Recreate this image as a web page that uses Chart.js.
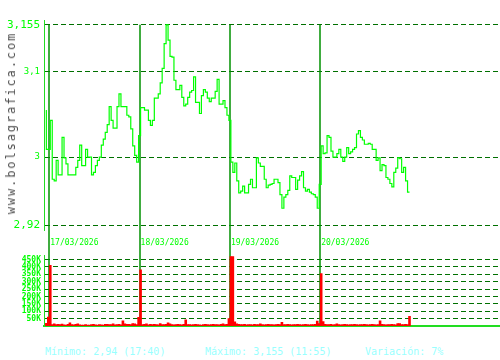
<!DOCTYPE html>
<html>
<head>
<meta charset="utf-8">
<script src="https://cdn.jsdelivr.net/npm/chart.js@4/dist/chart.umd.min.js"></script>
<style>
  html, body { margin: 0; padding: 0; background: #fff; }
  #wrap { position: relative; width: 500px; height: 360px; overflow: hidden; }
  canvas { position: absolute; left: 0; }
  .mark { position: absolute; left: 11px; top: 123px; transform: translate(-50%, -50%) rotate(-90deg);
    font: 12px 'DejaVu Sans Mono', monospace; letter-spacing: 1.9px; color: #505050; white-space: nowrap; }
  .foot { position: absolute; top: 346px; font: 10px 'DejaVu Sans Mono', monospace; color: #99ffff; white-space: nowrap; }
</style>
</head>
<body>
<div id="wrap">
  <canvas id="priceChart" width="500" height="248" style="top:0"></canvas>
  <canvas id="volChart" width="500" height="88" style="top:248px"></canvas>
  <div class="mark">www.bolsagrafica.com</div>
  <div class="foot" style="left:45px">Mínimo: 2,94 (17:40)</div>
  <div class="foot" style="left:205px">Máximo: 3,155 (11:55)</div>
  <div class="foot" style="left:365px">Variación: 7%</div>
</div>
<script>
// sessions shown on the chart
const dates = ['17/03/2026', '18/03/2026', '19/03/2026', '20/03/2026']

// price per ~10 min slot; last two ticks of the previous session first
const preOpen = [3.055, 3.009]
const price17 = [3.009, 3.043, 2.974, 2.972, 2.996, 2.979, 2.979, 3.023, 2.999, 2.992,
  2.979, 2.979, 2.979, 2.979, 2.988, 2.996, 3.014, 2.99, 2.99, 3.009,
  3.0, 3.0, 2.979, 2.982, 2.99, 2.996, 3.0, 3.014, 3.021, 3.029,
  3.038, 3.059, 3.043, 3.034, 3.034, 3.059, 3.074, 3.059, 3.059, 3.059,
  3.049, 3.047, 3.033, 3.013, 3.002, 2.994]
const price18 = [3.025, 3.058, 3.058, 3.055, 3.055, 3.043, 3.037, 3.043, 3.069, 3.069,
  3.074, 3.087, 3.104, 3.133, 3.155, 3.137, 3.118, 3.117, 3.09, 3.079,
  3.079, 3.084, 3.07, 3.06, 3.062, 3.07, 3.076, 3.078, 3.094, 3.064,
  3.064, 3.051, 3.072, 3.079, 3.076, 3.069, 3.065, 3.069, 3.069, 3.077,
  3.091, 3.062, 3.062, 3.066, 3.058, 3.049]
const price19 = [3.043, 2.994, 2.982, 2.993, 2.972, 2.958, 2.96, 2.966, 2.958, 2.958,
  2.968, 2.974, 2.964, 2.964, 2.999, 2.993, 2.989, 2.989, 2.974, 2.964,
  2.967, 2.968, 2.969, 2.974, 2.974, 2.97, 2.956, 2.94, 2.953, 2.956,
  2.961, 2.978, 2.976, 2.976, 2.962, 2.973, 2.978, 2.983, 2.964, 2.96,
  2.962, 2.959, 2.957, 2.956, 2.953, 2.94]
const price20 = [2.968, 3.013, 3.004, 3.005, 3.025, 3.023, 3.007, 3.0, 3.0, 3.004,
  3.009, 3.0, 2.995, 3.0, 3.011, 3.004, 3.006, 3.009, 3.011, 3.027,
  3.031, 3.023, 3.02, 3.015, 3.015, 3.016, 3.015, 3.009, 3.009, 2.996,
  2.999, 2.984, 2.991, 2.99, 2.976, 2.974, 2.969, 2.965, 2.982, 2.987,
  2.999, 2.998, 2.982, 2.988, 2.972, 2.959]

// volume per slot, thousands of shares
const volPre = [18, 60]
const vol17 = [410, 10, 14, 9, 12, 10, 13, 8, 7, 12, 22, 10, 8, 12, 14, 8, 7, 7, 9, 7,
  6, 9, 12, 8, 7, 9, 8, 7, 12, 12, 9, 10, 14, 8, 10, 12, 8, 35, 14, 12,
  12, 9, 16, 14, 9, 58]
const vol18 = [380, 9, 12, 14, 8, 12, 10, 12, 9, 8, 16, 10, 9, 12, 22, 14, 10, 8, 9, 12,
  10, 8, 12, 42, 10, 9, 8, 10, 12, 9, 8, 7, 10, 12, 9, 8, 10, 12, 9, 10,
  8, 12, 14, 10, 12, 50]
const vol19 = [470, 470, 28, 14, 12, 10, 9, 12, 8, 10, 9, 8, 12, 10, 9, 14, 10, 8, 9, 12,
  10, 9, 8, 10, 12, 9, 25, 10, 9, 12, 10, 8, 9, 10, 12, 9, 8, 10, 12, 9,
  8, 10, 9, 12, 33, 16]
const vol20 = [355, 30, 12, 10, 9, 12, 8, 10, 14, 9, 8, 10, 12, 9, 8, 10, 9, 12, 10, 8,
  9, 10, 12, 9, 8, 10, 12, 9, 8, 10, 35, 12, 10, 8, 9, 10, 12, 9, 8, 16,
  16, 9, 10, 12, 9, 65]

const priceTicks = [2.92, 3, 3.1, 3.155]
const priceTickLabels = ['2,92', '3', '3,1', '3,155']
const volTicks = [50, 100, 150, 200, 250, 300, 350, 400, 450]
const volTickLabels = ['50K', '100K', '150K', '200K', '250K', '300K', '350K', '400K', '450K']

;(function () {
  const SLOTS = 46
  const X_MIN = -3.2, X_MAX = 229.1
  const $ = (id) => document.getElementById(id)
  const GREEN = '#00ff00', DARK = '#007000', SEP = '#009000', AXIS = '#22dd22'
  const mono = 'DejaVu Sans Mono'

  const dayStarts = dates.map((d, i) => i * SLOTS)
  const toPts = (vals, day) => vals.map((v, i) => ({ x: day * SLOTS + i, y: v }))
  const prePts = (vals) => vals.map((v, i) => ({ x: i - vals.length, y: v }))

  const pricePts = [...prePts(preOpen), ...[price17, price18, price19, price20].flatMap(toPts)]
  const volPts = [...prePts(volPre), ...[vol17, vol18, vol19, vol20].flatMap(toPts)]

  // vertical session separators, just left of each session's first slot
  const separators = (top, bottom) => ({
    id: 'separators',
    beforeDatasetsDraw(chart) {
      const { ctx, scales: { x } } = chart
      ctx.save()
      ctx.strokeStyle = SEP
      ctx.lineWidth = 1.5
      dayStarts.forEach((v) => {
        const px = Math.round(x.getPixelForValue(v)) - 1
        ctx.beginPath()
        ctx.moveTo(px, top(chart))
        ctx.lineTo(px, bottom(chart))
        ctx.stroke()
      })
      ctx.restore()
    },
  })

  const xBase = {
    type: 'linear', min: X_MIN, max: X_MAX, offset: false,
    grid: { display: false, drawTicks: false, offset: false },
  }

  new Chart($('priceChart'), {
    type: 'line',
    data: { datasets: [{ data: pricePts, borderColor: GREEN, borderWidth: 1.2, pointRadius: 0, stepped: 'after', fill: false }] },
    options: {
      responsive: false, animation: false,
      layout: { padding: { top: 20, left: 0, right: 0, bottom: 0 } },
      plugins: { legend: { display: false }, tooltip: { enabled: false } },
      scales: {
        x: {
          ...xBase,
          border: { display: false },
          afterFit: (s) => { s.height = 18 },
          afterBuildTicks: (s) => { s.ticks = dayStarts.map((v) => ({ value: v })) },
          ticks: {
            autoSkip: false, maxRotation: 0, align: 'start', padding: 8, color: GREEN,
            font: { family: mono, size: 8 },
            callback: (v) => dates[dayStarts.indexOf(v)],
          },
        },
        y: {
          min: 2.9145, max: 3.1606,
          afterFit: (s) => { s.width = 44 },
          afterBuildTicks: (s) => { s.ticks = priceTicks.map((v) => ({ value: v })) },
          grid: { color: DARK, drawTicks: false },
          border: { color: AXIS, width: 1, dash: [5, 3] },
          ticks: {
            autoSkip: false, padding: 4, color: GREEN,
            font: (c) => {
              const v = c.tick && c.tick.value
              const big = v === priceTicks[0] || v === priceTicks[priceTicks.length - 1]
              return { family: mono, size: big ? 11 : 9 }
            },
            callback: (v) => priceTickLabels[priceTicks.indexOf(v)],
          },
        },
      },
    },
    plugins: [separators((c) => c.scales.y.getPixelForValue(priceTicks[priceTicks.length - 1]), (c) => c.height)],
  })

  new Chart($('volChart'), {
    type: 'bar',
    data: { datasets: [{ data: volPts, backgroundColor: '#ff0000', borderWidth: 0, barPercentage: 1, categoryPercentage: 1 }] },
    options: {
      responsive: false, animation: false,
      layout: { padding: { top: 2, left: 0, right: 0, bottom: 0 } },
      plugins: { legend: { display: false }, tooltip: { enabled: false } },
      scales: {
        x: {
          ...xBase,
          border: { color: AXIS, width: 2 },
          ticks: { display: false },
          afterFit: (s) => { s.height = 10 },
        },
        y: {
          min: 0, max: 475,
          afterFit: (s) => { s.width = 44 },
          afterBuildTicks: (s) => { s.ticks = volTicks.map((v) => ({ value: v })) },
          grid: { color: DARK, drawTicks: false },
          border: { color: AXIS, width: 1, dash: [5, 3] },
          ticks: {
            autoSkip: false, padding: 3, color: GREEN,
            font: { family: mono, size: 8, weight: 'bold' },
            callback: (v) => volTickLabels[volTicks.indexOf(v)],
          },
        },
      },
    },
    plugins: [separators(() => 0, (c) => c.chartArea.bottom)],
  })
})()
</script>
</body>
</html>
